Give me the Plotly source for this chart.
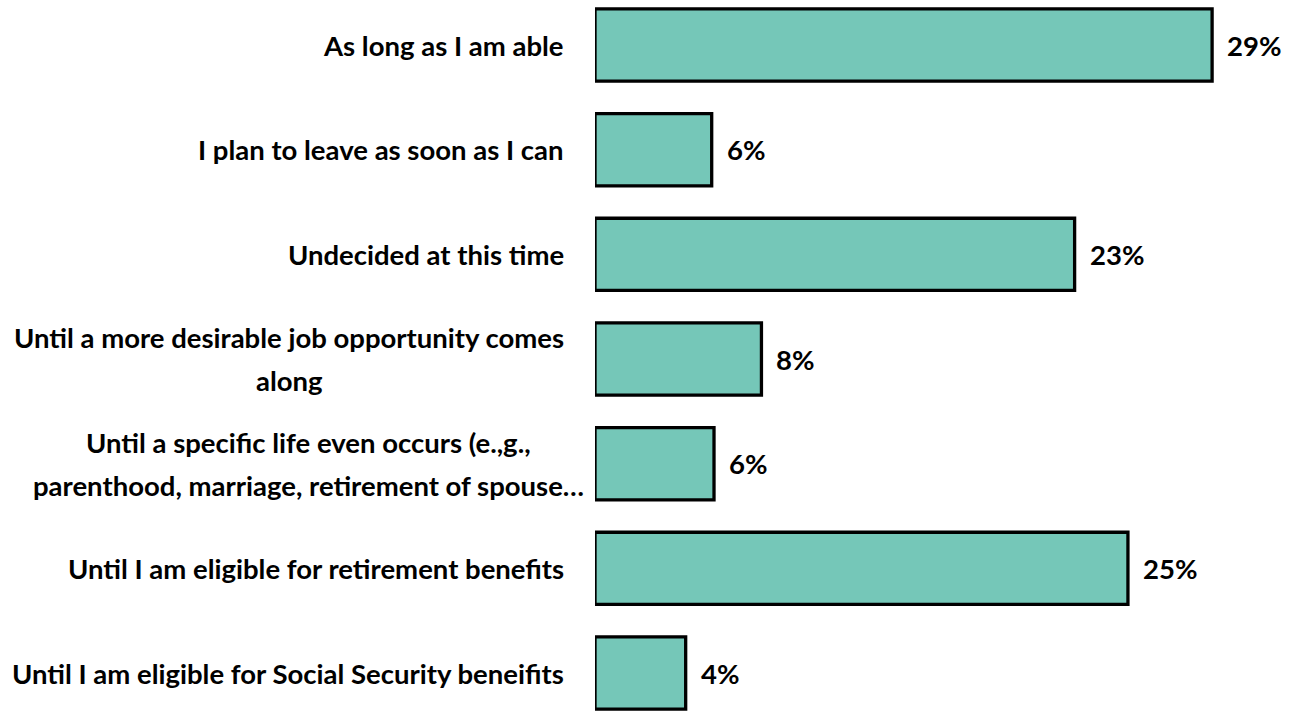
import plotly.graph_objects as go

categories = [
    "As long as I am able",
    "I plan to leave as soon as I can",
    "Undecided at this time",
    "Until a more desirable job opportunity comes<br>along",
    "Until a specific life even occurs (e.,g.,<br>parenthood, marriage, retirement of spouse…",
    "Until I am eligible for retirement benefits",
    "Until I am eligible for Social Security beneifits",
]
values = [29.4, 5.56, 22.85, 7.93, 5.67, 25.39, 4.32]
value_labels = ["29%", "6%", "23%", "8%", "6%", "25%", "4%"]

FONT = "Lato"
FS = 27.5
LINE_GAP = 43
W, H = 1293, 711
ML = 595
PW = W - ML

ypos = list(range(len(categories)))

fig = go.Figure()
fig.add_trace(go.Bar(
    x=values, y=ypos, orientation="h",
    marker=dict(color="#75C7B8", line=dict(color="black", width=3.3)),
    width=0.69, hoverinfo="skip",
))

font = dict(family=FONT, size=FS, color="black", weight="bold")
annotations = []
for i, (cat, v, lab) in enumerate(zip(categories, values, value_labels)):
    lines = cat.split("<br>")
    n = len(lines)
    if n == 1:
        x_px, anchor = 566, "right"
    else:
        # wrapped labels: lines centered on a common axis
        x_px, anchor = (308 if "spouse" in cat else 289), "center"
    for k, line in enumerate(lines):
        annotations.append(dict(
            x=(x_px - ML) / PW, xref="paper", y=i, yref="y",
            text=line, showarrow=False, xanchor=anchor,
            yanchor="middle", yshift=-(k - (n - 1) / 2) * LINE_GAP,
            font=font,
        ))
    annotations.append(dict(
        x=v, xref="x", y=i, yref="y", text=lab, showarrow=False,
        xanchor="left", yanchor="middle", xshift=13, font=font,
    ))

fig.update_layout(
    width=W, height=H,
    margin=dict(l=ML, r=0, t=0, b=0),
    paper_bgcolor="white", plot_bgcolor="white",
    showlegend=False,
    xaxis=dict(range=[0, PW / 20.99], visible=False),
    yaxis=dict(range=[6.363, -0.43], visible=False),
    annotations=annotations,
)

fig.write_html("out.html", config={"displayModeBar": False},
               post_script="document.body.style.margin='0';")
